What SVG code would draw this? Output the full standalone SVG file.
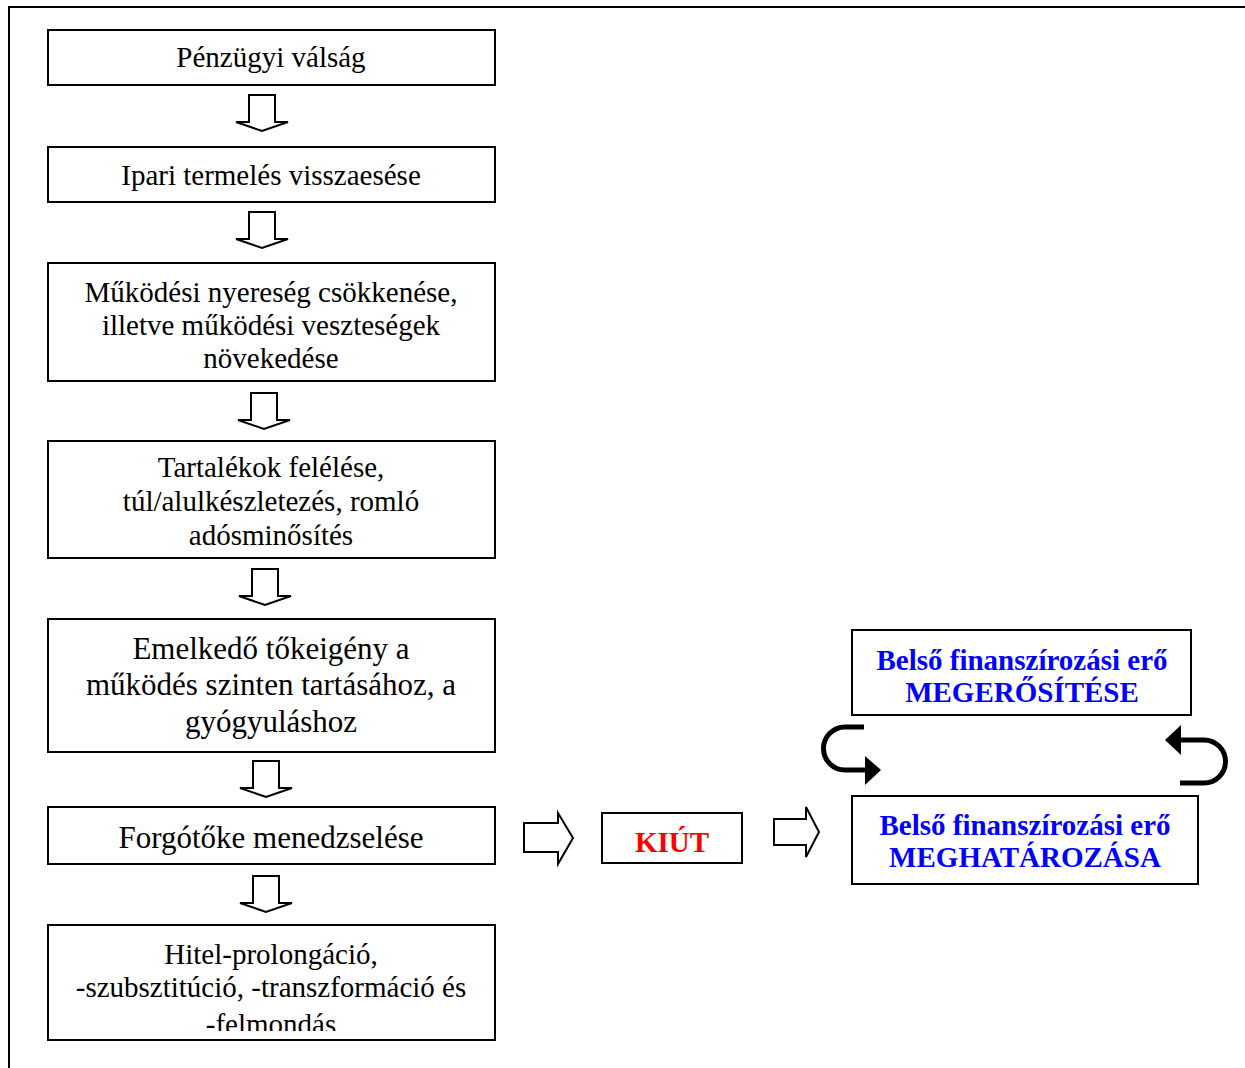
<svg xmlns="http://www.w3.org/2000/svg" width="1245" height="1068" viewBox="0 0 1245 1068">
<style>
.box{fill:#fff;stroke:#000;stroke-width:2}
.t{font-family:"Liberation Serif","Times New Roman",serif;font-size:29px;fill:#000;text-anchor:middle}
.tl{font-size:31px}
.b{font-family:"Liberation Serif","Times New Roman",serif;font-size:29px;font-weight:bold;fill:#0000ff;text-anchor:middle}
.r{fill:#ff0000}
.blk{fill:#fff;stroke:#000;stroke-width:2;stroke-linejoin:miter}
.cur{fill:none;stroke:#000;stroke-width:5}
</style>
<defs>
<path id="dn" d="M-13,0 H13 V27 H26 L0,36 L-26,27 H-13 Z"/>
<clipPath id="c7"><rect x="48" y="924" width="447" height="107"/></clipPath>
</defs>
<rect width="1245" height="1068" fill="#fff"/>
<polyline points="9,1068 9,7 1245,7" fill="none" stroke="#000" stroke-width="2"/>

<g id="n1"><rect class="box" x="48" y="30" width="447" height="55"/><text class="t" x="271" y="67">Pénzügyi válság</text></g>
<g id="n2"><rect class="box" x="48" y="147" width="447" height="55"/><text class="t" x="271" y="185">Ipari termelés visszaesése</text></g>
<g id="n3"><rect class="box" x="48" y="263" width="447" height="118"/>
<text class="t" x="271" y="302">Működési nyereség csökkenése,</text>
<text class="t" x="271" y="335">illetve működési veszteségek</text>
<text class="t" x="271" y="368">növekedése</text></g>
<g id="n4"><rect class="box" x="48" y="441" width="447" height="117"/>
<text class="t" x="271" y="477">Tartalékok felélése,</text>
<text class="t" x="271" y="511">túl/alulkészletezés, romló</text>
<text class="t" x="271" y="545">adósminősítés</text></g>
<g id="n5"><rect class="box" x="48" y="619" width="447" height="133"/>
<text class="t tl" x="271" y="659">Emelkedő tőkeigény a</text>
<text class="t tl" x="271" y="695">működés szinten tartásához, a</text>
<text class="t tl" x="271" y="732">gyógyuláshoz</text></g>
<g id="n6"><rect class="box" x="48" y="807" width="447" height="57"/><text class="t tl" x="271" y="848">Forgótőke menedzselése</text></g>
<g id="n7"><rect class="box" x="48" y="925" width="447" height="115"/>
<g clip-path="url(#c7)">
<text class="t" x="271" y="964">Hitel-prolongáció,</text>
<text class="t" x="271" y="997">-szubsztitúció, -transzformáció és</text>
<text class="t" x="271" y="1034">-felmondás</text></g></g>
<g id="kiut"><rect class="box" x="602" y="813" width="140" height="50"/><text class="b r" x="672" y="852">KIÚT</text></g>
<g id="meger"><rect class="box" x="852" y="630" width="339" height="85"/>
<text class="b" x="1022" y="670">Belső finanszírozási erő</text>
<text class="b" x="1022" y="702">MEGERŐSÍTÉSE</text></g>
<g id="meghat"><rect class="box" x="852" y="796" width="346" height="88"/>
<text class="b" x="1025" y="835">Belső finanszírozási erő</text>
<text class="b" x="1025" y="867">MEGHATÁROZÁSA</text></g>

<g id="connectors">
<use href="#dn" class="blk" transform="translate(262,95)"/>
<use href="#dn" class="blk" transform="translate(262,212)"/>
<use href="#dn" class="blk" transform="translate(264,393)"/>
<use href="#dn" class="blk" transform="translate(265,569)"/>
<use href="#dn" class="blk" transform="translate(266,761)"/>
<use href="#dn" class="blk" transform="translate(266,876)"/>
<path class="blk" d="M524,823 H558 V813 L573,838 L558,864 V852 H524 Z"/>
<path class="blk" d="M774,819 H806 V807 L819,832 L806,857 V845 H774 Z"/>
<path class="cur" d="M864,727 H845 A21.5,21.5 0 0 0 845,770 H866"/>
<polygon points="865,756 881,770 865,785" fill="#000"/>
<path class="cur" d="M1180,783 H1204 A21.5,21.5 0 0 0 1204,740 H1179"/>
<polygon points="1181,725 1165,740 1181,755" fill="#000"/>
</g>
</svg>
